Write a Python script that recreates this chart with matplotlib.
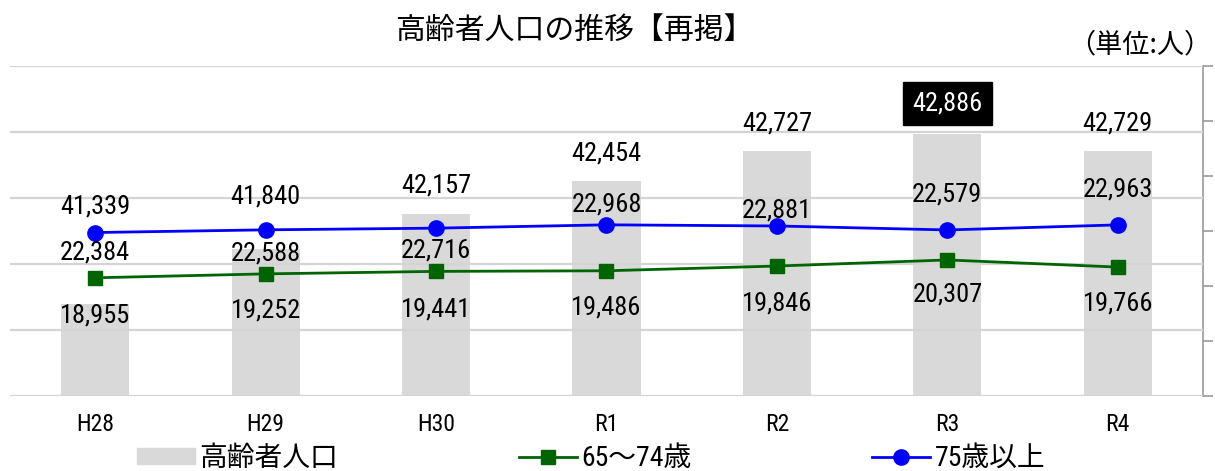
import matplotlib
matplotlib.use("Agg")
import matplotlib.pyplot as plt
from matplotlib.font_manager import FontProperties
from matplotlib.patches import Patch
import numpy as np

categories = ["H28", "H29", "H30", "R1", "R2", "R3", "R4"]
total = [41339, 41840, 42157, 42454, 42727, 42886, 42729]
age_65_74 = [18955, 19252, 19441, 19486, 19846, 20307, 19766]
age_75_up = [22384, 22588, 22716, 22968, 22881, 22579, 22963]

# label offsets (pixels, up positive) - styling only
total_off = [97, 52, 28, 28, 28, 30, 27]
blue_off = [-20, -24, -22, 20, 15, 35, 35]
green_off = [-38, -37, -38, -37, -37, -35, -36]

NUM_FONT = ["Roboto Condensed", "Noto Sans CJK JP", "DejaVu Sans"]
JP_FONT = ["Noto Sans CJK JP", "DejaVu Sans"]
plt.rcParams["font.family"] = NUM_FONT

fig = plt.figure(figsize=(12.15, 4.71), dpi=100)
ax = fig.add_axes([10 / 1215, 75 / 471, 1193 / 1215, 330 / 471])
ax2 = ax.twinx()

x = np.arange(len(categories))
ax.bar(x, total, width=0.4, color="#d9d9d9", zorder=1)
ax.set_xlim(-0.5, len(categories) - 0.5)
ax.set_ylim(40500, 43500)
ax.yaxis.tick_right()
ax.set_yticks(np.arange(40500, 43501, 500))
ax.set_yticklabels([])
ax.tick_params(axis="y", right=True, left=False, length=7, color="#9a9a9a", width=1.2)
ax.set_xticks(x)
ax.set_xticklabels(categories, fontsize=17)
ax.tick_params(axis="x", length=0, pad=12)
for s in ["left", "top", "bottom"]:
    ax.spines[s].set_visible(False)
ax.spines["right"].set_color("#9a9a9a")
ax.spines["right"].set_linewidth(1.2)

ax2.set_ylim(10000, 35000)
ax2.set_yticks(np.arange(10000, 35001, 5000))
ax2.set_yticklabels([])
ax2.tick_params(axis="y", length=0)
ax2.grid(axis="y", color="#d4d4d4", linewidth=1.6, zorder=0)
ax2.set_axisbelow(True)
for s in ["left", "top", "bottom", "right"]:
    ax2.spines[s].set_visible(False)

ax2.plot(x, age_65_74, color="#006400", linewidth=2.0, marker="s", markersize=10,
         label="65〜74歳", zorder=3)
ax2.plot(x, age_75_up, color="#0000ff", linewidth=2.0, marker="o", markersize=11,
         label="75歳以上", zorder=3)

fs = 19
for i, v in enumerate(total):
    kw = {}
    color = "black"
    if i == 5:
        kw["bbox"] = dict(boxstyle="square,pad=0.35", fc="black", ec="black")
        color = "white"
    ax2.annotate(f"{v:,}", (x[i], v), xycoords=ax.transData, xytext=(0, total_off[i]),
                 textcoords="offset pixels", ha="center", va="center", fontsize=fs,
                 color=color, zorder=5, **kw)
for i, v in enumerate(age_75_up):
    ax2.annotate(f"{v:,}", (x[i], v), xytext=(0, blue_off[i]), textcoords="offset pixels",
                 ha="center", va="center", fontsize=fs, color="black", zorder=5)
for i, v in enumerate(age_65_74):
    ax2.annotate(f"{v:,}", (x[i], v), xytext=(0, green_off[i]), textcoords="offset pixels",
                 ha="center", va="center", fontsize=fs, color="black", zorder=5)

fig.text(574 / 1215, 1 - 30 / 471, "高齢者人口の推移【再掲】", family=JP_FONT,
         fontsize=21.5, ha="center", va="center")
fig.text(1211 / 1215, 1 - 45 / 471, "（単位:人）", family=JP_FONT,
         fontsize=19.5, ha="right", va="center")

handles = [Patch(color="#d9d9d9")] + ax2.get_lines()
labels = ["高齢者人口", "65〜74歳", "75歳以上"]
fig.legend(handles, labels, loc="center", bbox_to_anchor=(591 / 1215, 1 - 458 / 471),
           ncol=3, frameon=False, prop=FontProperties(family=NUM_FONT, size=20),
           handlelength=2.1, handleheight=0.5, handletextpad=0.15, columnspacing=6.5,
           borderpad=0, borderaxespad=0)

fig.savefig("out.png", dpi=100)
